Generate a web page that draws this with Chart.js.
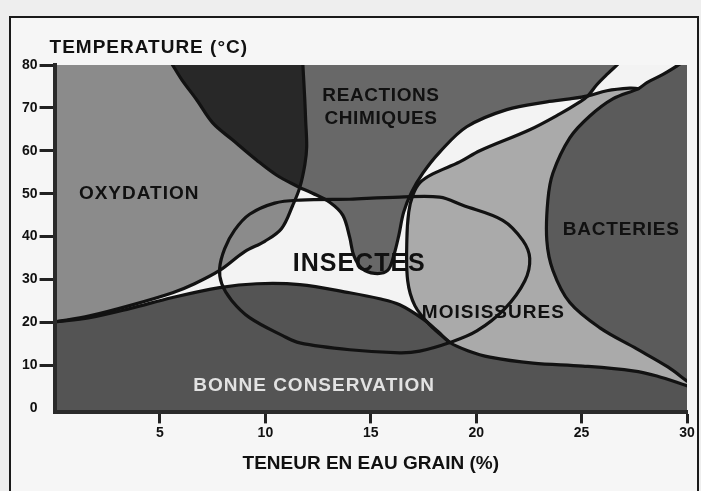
<!DOCTYPE html>
<html><head><meta charset="utf-8">
<script src="https://cdn.jsdelivr.net/npm/chart.js@4/dist/chart.umd.min.js"></script>
<style>
html,body{margin:0;padding:0;background:#eeeeee;width:701px;height:491px;overflow:hidden;}
#frame{position:absolute;left:9px;top:16px;width:690px;height:490px;box-sizing:border-box;border:2px solid #1a1a1a;background:#f6f6f6;}
#wrap{position:absolute;left:0;top:0;width:701px;height:491px;}
</style></head><body>
<div id="frame"></div>
<div id="wrap"><canvas id="c" width="701" height="491"></canvas></div>
<script>
// ---- texts and ticks ----
const xTicks = [5, 10, 15, 20, 25, 30];
const yTicks = [0, 10, 20, 30, 40, 50, 60, 70, 80];
const xTitle = 'TENEUR EN EAU GRAIN (%)';
const yTitle = 'TEMPERATURE (°C)';
const regionNames = ['OXYDATION', 'REACTIONS', 'CHIMIQUES', 'INSECTES', 'MOISISSURES', 'BACTERIES', 'BONNE CONSERVATION'];

// ---- boundary curves, [water content %, temperature °C] ----
const plotCorners   = [[-0.5,-2],[-0.5,81],[30.5,81],[30.5,-2]];
const oxydationLow  = [[0,20.1],[1.66,21.5],[3.56,23.9],[5.6,26.9],[6.64,29.0],[7.83,32.1],[9.02,36.5],[9.97,38.9],[10.77,41.9],[11.3,47.3],[11.63,51.4]];
const noirDroite    = [[11.63,51.4],[11.87,56.7],[11.96,60.9],[11.91,67.2],[11.87,71.9],[11.77,80.8]];
const noirGauche    = [[5.5,80.8],[6.03,76.6],[6.74,71.9],[7.5,66.5],[8.45,62.5],[9.59,57.8],[10.54,54.3],[11.63,51.4]];
const reactionsBas  = [[11.63,51.4],[12.24,50.1],[13.05,48.0],[13.67,45.0],[14.0,39.8],[14.19,35.6],[14.57,32.6],[15.19,31.4],[15.8,32.1],[16.09,35.6],[16.33,40.3],[16.56,45.7],[16.94,50.4],[17.47,54.8],[18.27,59.7],[19.55,65.6],[21.45,69.6],[23.35,71.4],[24.44,72.1],[25.3,72.8]];
const brasDroit     = [[25.3,72.8],[26.2,74.0],[27.29,74.6],[27.7,74.5]];
const moisGauche    = [[18.75,15.3],[17.8,19.4],[17.09,23.9],[16.75,29.7],[16.71,39.1],[16.8,45.7],[16.99,49.6],[17.32,52.5],[17.94,54.6],[19.22,57.4],[20.17,60.0],[22.54,64.9],[23.97,68.6],[24.92,71.4],[25.3,72.8]];
const moisHaut      = [[25.3,72.8],[25.72,75.4],[26.2,77.8],[26.85,80.8]];
const bactHaut      = [[29.85,80.8],[28.86,77.8],[28.1,75.9],[27.7,74.5]];
const bactBas       = [[27.7,74.5],[26.48,72.1],[25.39,68.1],[24.44,63.0],[23.64,54.8],[23.4,48.5],[23.35,39.1],[23.64,32.1],[24.44,24.6],[25.87,18.7],[27.62,13.8],[29.09,9.6],[30,6.3]];
const conservationG = [[0,20.1],[1.66,21.1],[3.56,23.2],[5.6,25.8],[7.83,28.1],[9.59,29.0],[11.63,28.8],[14.0,26.9],[15.42,25.5],[16.37,24.1],[17.47,20.8],[18.2,17.8],[18.75,15.3]];
const conservationD = [[18.75,15.3],[19.6,13.4],[20.65,11.9],[22.69,10.5],[25.06,9.8],[27.43,8.7],[28.57,7.5],[30,5.2]];
const insectesOvale = [[14.0,48.7],[16.37,49.2],[18.27,49.2],[19.36,47.3],[21.26,43.8],[22.21,39.1],[22.54,34.9],[22.31,29.7],[21.36,23.2],[20.03,18.0],[18.75,15.3],[17.32,13.3],[16.37,12.9],[14.0,13.6],[11.63,15.2],[10.82,16.9],[9.25,21.1],[8.4,25.1],[7.93,29.0],[7.83,32.6],[8.07,37.2],[8.54,41.5],[9.25,45.2],[10.44,47.8],[11.63,48.5],[14.0,48.7]];

// ---- layout / style (not data) ----
const FONT = '"Liberation Sans", Arial, Helvetica, sans-serif';
const labelLayout = [
  {x:3.99,  y:50.35, size:19, spacing:1,   color:'#111'},
  {x:15.47, y:73.3,  size:19, spacing:0.6, color:'#111'},
  {x:15.47, y:67.9,  size:19, spacing:0.6, color:'#111'},
  {x:14.43, y:34.0,  size:25, spacing:1,   color:'#111'},
  {x:20.79, y:22.7,  size:19, spacing:1,   color:'#111'},
  {x:26.86, y:41.9,  size:19, spacing:0.8, color:'#111'},
  {x:12.29, y:5.6,   size:19, spacing:1,   color:'#e2e2e2'}
];
const COL = {reactions:'#686868', blanc:'#f3f3f3', oxydation:'#8b8b8b', noir:'#282828', moisissures:'#aaaaaa', bacteries:'#5b5b5b', conservation:'#545454', trait:'#121212'};

const toXY = pts => pts.map(([x, y]) => ({x, y}));
const chain = (...parts) => { const out = []; parts.forEach((p, i) => p.forEach((pt, j) => { if (i > 0 && j === 0) return; out.push(pt); })); return out; };
const ring = (...parts) => [].concat(...parts);
const rev = a => a.slice().reverse();

function zone(pts, color, order) {
  return {data: toXY(pts), showLine: true, fill: 'shape', backgroundColor: color, borderColor: 'rgba(0,0,0,0)', borderWidth: 0, pointRadius: 0, tension: 0.35, order: order, clip: 0};
}
function trait(pts) {
  return {data: toXY(pts), showLine: true, fill: false, borderColor: COL.trait, borderWidth: 3.2, pointRadius: 0, tension: 0.35, order: 1, clip: 0, borderCapStyle: 'round', borderJoinStyle: 'round'};
}

const datasets = [
  zone(plotCorners, COL.reactions, 20),
  zone(ring([[-0.5,-2],[-0.5,20.1]], oxydationLow, reactionsBas, moisHaut, [[30.5,80.8],[30.5,-2]]), COL.blanc, 19),
  zone(ring([[-0.5,80.8]], noirGauche, rev(oxydationLow), [[-0.5,20.1]]), COL.oxydation, 18),
  zone(ring(noirGauche, noirDroite), COL.noir, 17),
  zone(ring(moisGauche, brasDroit, bactBas, rev(conservationD)), COL.moisissures, 16),
  zone(ring(bactHaut, bactBas, [[30.5,6.3],[30.5,80.8]]), COL.bacteries, 15),
  zone(ring(conservationG, conservationD, [[30.5,5.2],[30.5,-2],[-0.5,-2],[-0.5,20.1]]), COL.conservation, 14),
  trait(chain(conservationG, conservationD)),
  trait(chain(oxydationLow, noirDroite)),
  trait(noirGauche),
  trait(chain(reactionsBas, brasDroit)),
  trait(chain(moisGauche, moisHaut)),
  trait(chain(bactHaut, bactBas)),
  trait(insectesOvale)
];

const labelPlugin = {
  id: 'regionLabels',
  afterDatasetsDraw(chart) {
    const {ctx} = chart;
    const xs = chart.scales.x, ys = chart.scales.y;
    ctx.save();
    ctx.textAlign = 'center';
    ctx.textBaseline = 'alphabetic';
    labelLayout.forEach((l, i) => {
      ctx.font = 'bold ' + l.size + 'px ' + FONT;
      ctx.letterSpacing = l.spacing + 'px';
      ctx.fillStyle = l.color;
      ctx.fillText(regionNames[i], xs.getPixelForValue(l.x) + l.spacing / 2, ys.getPixelForValue(l.y) + l.size * 0.358);
    });
    ctx.restore();
  },
  afterDraw(chart) {
    const {ctx, chartArea} = chart;
    ctx.save();
    ctx.font = 'bold 19px ' + FONT;
    ctx.letterSpacing = '1px';
    ctx.fillStyle = '#111';
    ctx.textAlign = 'left';
    ctx.textBaseline = 'alphabetic';
    ctx.fillText(yTitle, chartArea.left - 5, chartArea.top - 12);
    ctx.restore();
  }
};

Chart.defaults.font.family = FONT;
new Chart(document.getElementById('c'), {
  type: 'scatter',
  data: {datasets},
  plugins: [labelPlugin],
  options: {
    responsive: false,
    animation: false,
    layout: {padding: {left: 20, top: 65, right: 14, bottom: 12}},
    elements: {line: {capBezierPoints: false}},
    plugins: {legend: {display: false}, tooltip: {enabled: false}, title: {display: false}},
    scales: {
      x: {
        type: 'linear', min: 0, max: 30,
        afterBuildTicks: s => { s.ticks = xTicks.map(v => ({value: v})); },
        grid: {drawOnChartArea: false, drawTicks: true, tickLength: 11, tickWidth: 3, tickColor: '#222'},
        border: {display: true, width: 4, color: '#2a2a2a', z: 1},
        ticks: {font: {size: 14, weight: 'bold'}, color: '#111', padding: 1, maxRotation: 0, autoSkip: false},
        title: {display: true, text: xTitle, font: {size: 19, weight: 'bold'}, color: '#111', padding: {top: 10, bottom: 4}}
      },
      y: {
        type: 'linear', min: -1, max: 80,
        afterBuildTicks: s => { s.ticks = yTicks.map(v => ({value: v})); },
        grid: {drawOnChartArea: false, drawTicks: true, tickLength: 15, tickWidth: 3,
               tickColor: c => (c.tick && c.tick.value === 0) ? 'rgba(0,0,0,0)' : '#222'},
        border: {display: true, width: 4, color: '#2a2a2a', z: 1},
        ticks: {font: {size: 14, weight: 'bold'}, color: '#111', padding: 2, autoSkip: false}
      }
    }
  }
});
</script>
</body></html>
